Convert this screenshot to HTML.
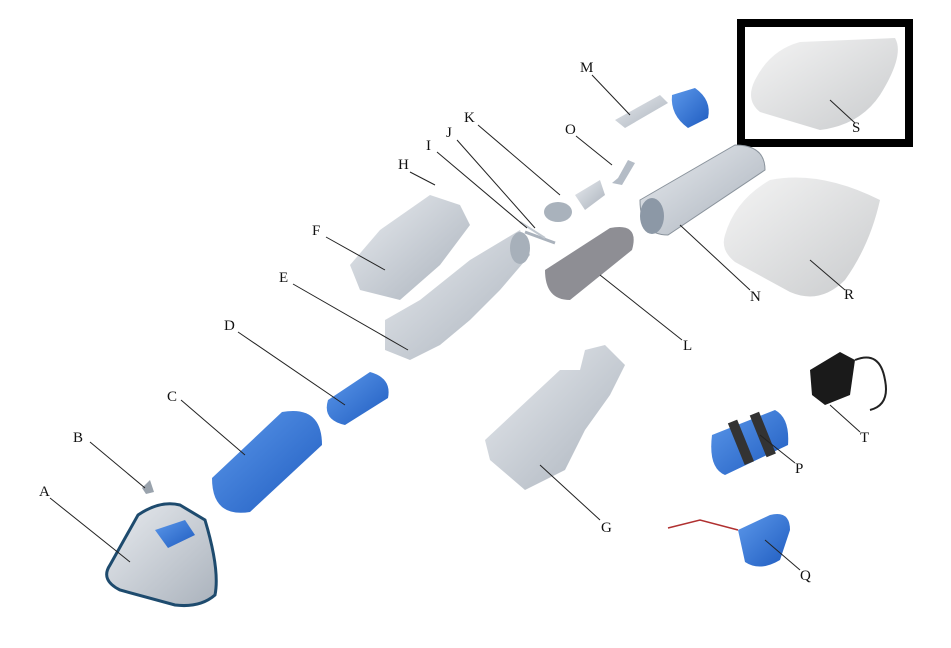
<!DOCTYPE html>
<html><head><meta charset="utf-8"><style>
html,body{margin:0;padding:0;background:#fff;width:951px;height:648px;overflow:hidden}
text{font-family:"Liberation Serif",serif;font-size:15px;fill:#111}
</style></head><body>
<svg width="951" height="648" viewBox="0 0 951 648" xmlns="http://www.w3.org/2000/svg">
<defs>
<linearGradient id="g" x1="0" y1="0" x2="1" y2="1"><stop offset="0" stop-color="#e8ebef"/><stop offset="1" stop-color="#aab2bc"/></linearGradient>
<linearGradient id="b" x1="0" y1="0" x2="1" y2="1"><stop offset="0" stop-color="#5c98ea"/><stop offset="1" stop-color="#1f5cc0"/></linearGradient>
<linearGradient id="w" x1="0" y1="0" x2="1" y2="1"><stop offset="0" stop-color="#f4f4f4"/><stop offset="1" stop-color="#c9cbcd"/></linearGradient>
</defs>
<rect x="741" y="23" width="168" height="120" fill="#fff" stroke="#000" stroke-width="8"/>
<path d="M755,80 Q770,50 800,42 L895,38 Q905,55 880,95 Q860,125 820,130 L760,112 Q745,100 755,80Z" fill="url(#w)"/>
<path d="M725,235 Q735,200 770,180 Q820,170 880,200 Q870,245 845,280 Q820,305 790,292 L735,262 Q720,250 725,235Z" fill="url(#w)"/>
<!-- N cage -->
<path d="M640,200 L735,145 Q765,145 765,170 L668,235 Q640,235 640,200Z" fill="url(#g)" stroke="#8a939c"/>
<ellipse cx="652" cy="216" rx="12" ry="18" fill="#8c98a6"/>
<path d="M545,270 L610,228 Q640,222 632,250 L570,300 Q545,300 545,270Z" fill="#8e8e94"/>
<path d="M615,120 L660,95 L668,103 L625,128Z" fill="url(#g)"/>
<path d="M672,95 L695,88 Q712,100 708,118 L688,128 Q670,115 672,95Z" fill="url(#b)"/>
<path d="M612,183 L618,178 L628,160 L635,163 L622,185Z" fill="#b4bcc6"/>
<path d="M575,195 L600,180 L605,195 L585,210Z" fill="url(#g)"/>
<ellipse cx="558" cy="212" rx="14" ry="10" fill="#a9b2bc"/>
<line x1="525" y1="232" x2="555" y2="243" stroke="#aab2bc" stroke-width="3"/>
<line x1="520" y1="222" x2="545" y2="238" stroke="#bfc6ce" stroke-width="2"/>
<path d="M350,265 L380,230 L430,195 L460,205 L470,225 L440,265 L400,300 L360,290Z" fill="url(#g)"/>
<path d="M420,300 L470,260 L520,230 L530,255 L500,290 L470,320 L440,345 L410,360 L385,350 L385,320Z" fill="url(#g)"/>
<ellipse cx="520" cy="248" rx="10" ry="16" fill="#a7b0ba"/>
<path d="M328,400 L370,372 Q392,378 388,398 L345,425 Q322,420 328,400Z" fill="url(#b)"/>
<!-- C wider cone -->
<path d="M212,478 L282,412 Q322,405 322,445 L250,512 Q212,518 212,478Z" fill="url(#b)"/>
<path d="M142,488 L150,480 L154,492 L146,494Z" fill="#9aa3ad"/>
<path d="M110,565 L138,515 Q160,500 180,505 L205,520 Q220,570 215,595 Q200,608 175,605 L120,590 Q100,580 110,565Z" fill="url(#g)" stroke="#1e4b6e" stroke-width="3"/>
<path d="M155,530 L185,520 L195,535 L168,548Z" fill="url(#b)"/>
<path d="M485,440 L560,370 L580,370 L585,350 L605,345 L625,365 L610,395 L585,430 L565,470 L525,490 L490,460Z" fill="url(#g)"/>
<path d="M712,435 L775,410 Q790,418 788,445 L725,475 Q708,468 712,435Z" fill="url(#b)"/>
<rect x="735" y="420" width="10" height="45" fill="#333" transform="rotate(-22 740 440)"/>
<rect x="758" y="412" width="10" height="45" fill="#333" transform="rotate(-22 763 435)"/>
<path d="M810,370 L840,352 L855,360 L850,395 L825,405 L812,395Z" fill="#1a1a1a"/>
<path d="M855,360 Q880,350 885,380 Q890,405 870,410" fill="none" stroke="#222" stroke-width="2"/>
<path d="M738,530 L770,515 Q790,510 790,530 L780,560 Q760,572 745,562Z" fill="url(#b)"/>
<path d="M668,528 L700,520 L738,530" fill="none" stroke="#b03030" stroke-width="1.5"/>
<g stroke="#222" stroke-width="1" fill="none">
<line x1="592" y1="75" x2="630" y2="115"/>
<line x1="576" y1="136" x2="612" y2="165"/>
<line x1="478" y1="125" x2="560" y2="195"/>
<line x1="457" y1="140" x2="535" y2="228"/>
<line x1="437" y1="152" x2="527" y2="228"/>
<line x1="410" y1="172" x2="435" y2="185"/>
<line x1="326" y1="237" x2="385" y2="270"/>
<line x1="293" y1="284" x2="408" y2="350"/>
<line x1="238" y1="332" x2="345" y2="405"/>
<line x1="181" y1="400" x2="245" y2="455"/>
<line x1="90" y1="442" x2="145" y2="488"/>
<line x1="50" y1="498" x2="130" y2="562"/>
<line x1="682" y1="340" x2="600" y2="275"/>
<line x1="750" y1="290" x2="680" y2="225"/>
<line x1="845" y1="290" x2="810" y2="260"/>
<line x1="855" y1="123" x2="830" y2="100"/>
<line x1="860" y1="432" x2="830" y2="405"/>
<line x1="795" y1="463" x2="760" y2="435"/>
<line x1="600" y1="520" x2="540" y2="465"/>
<line x1="800" y1="570" x2="765" y2="540"/>
</g>
<text x="580" y="72">M</text><text x="565" y="134">O</text><text x="464" y="122">K</text>
<text x="446" y="137">J</text><text x="426" y="150">I</text><text x="398" y="169">H</text>
<text x="312" y="235">F</text><text x="279" y="282">E</text><text x="224" y="330">D</text>
<text x="167" y="401">C</text><text x="73" y="442">B</text><text x="39" y="496">A</text>
<text x="683" y="350">L</text><text x="750" y="301">N</text><text x="844" y="299">R</text>
<text x="852" y="132">S</text><text x="860" y="442">T</text><text x="795" y="473">P</text>
<text x="601" y="532">G</text><text x="800" y="580">Q</text>
</svg>
</body></html>
